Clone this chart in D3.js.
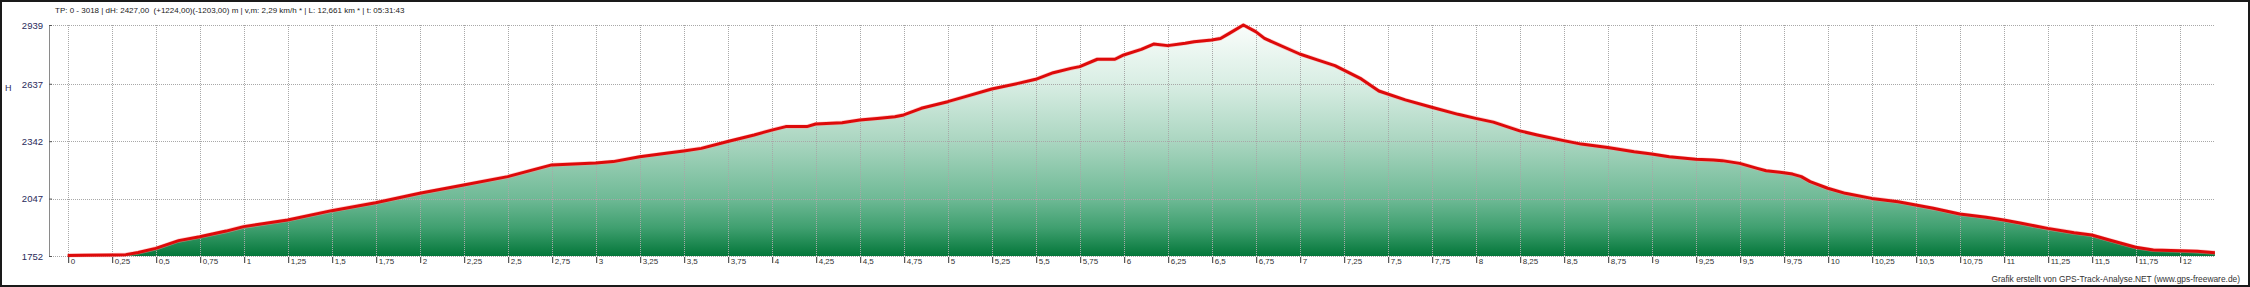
<!DOCTYPE html>
<html>
<head>
<meta charset="utf-8">
<script src="https://cdn.jsdelivr.net/npm/d3@7"></script>
<style>
  html, body { margin: 0; padding: 0; background: #fff; }
  svg { display: block; }
  text { font-family: "Liberation Sans", Arial, sans-serif; }
</style>
</head>
<body>
<svg id="chart" width="2250" height="287"></svg>
<script>
// ---- data ----
const distanceKm = [0, 0.1, 0.25, 0.33, 0.4, 0.5, 0.63, 0.75, 0.9, 1.0, 1.25, 1.5, 1.75, 2.0, 2.25, 2.5, 2.75, 3.0,
  3.1, 3.25, 3.4, 3.5, 3.6, 3.75, 3.9, 4.0, 4.08, 4.2, 4.25, 4.4, 4.5, 4.6, 4.7, 4.75, 4.85, 5.0, 5.1, 5.25, 5.4, 5.5,
  5.6, 5.7, 5.75, 5.85, 5.95, 6.0, 6.1, 6.17, 6.25, 6.35, 6.4, 6.5, 6.55, 6.6, 6.68, 6.75, 6.8, 7.0, 7.1, 7.2, 7.35,
  7.45, 7.6, 7.75, 7.9, 8.0, 8.1, 8.25, 8.35, 8.5, 8.6, 8.75, 8.9, 9.0, 9.1, 9.25, 9.35, 9.4, 9.5, 9.6, 9.65, 9.75,
  9.8, 9.85, 9.9, 10.0, 10.1, 10.25, 10.4, 10.5, 10.6, 10.75, 10.9, 11.0, 11.1, 11.25, 11.4, 11.5, 11.6, 11.75, 11.85,
  12.0, 12.1, 12.2];
const elevationM = [1755, 1756, 1757, 1759, 1770, 1791, 1831, 1851, 1880, 1903, 1937, 1985, 2026, 2074, 2117, 2160, 2220, 2230,
  2237, 2262, 2280, 2292, 2305, 2340, 2374, 2399, 2417, 2417, 2430, 2437, 2451, 2459, 2468, 2477, 2511, 2545, 2571, 2610, 2639, 2660,
  2694, 2716, 2725, 2763, 2763, 2785, 2814, 2841, 2833, 2845, 2853, 2862, 2870, 2896, 2939, 2905, 2870, 2790, 2760, 2730, 2662,
  2600, 2554, 2516, 2480, 2459, 2440, 2395, 2374, 2345, 2327, 2310, 2288, 2276, 2262, 2249, 2245, 2242, 2228, 2202, 2190, 2180,
  2173, 2160, 2134, 2100, 2074, 2048, 2031, 2014, 1997, 1968, 1951, 1937, 1920, 1894, 1872, 1860, 1834, 1797, 1783,
  1779, 1776, 1769];
const yTickValues = [1752, 2047, 2342, 2637, 2939];
const xTickValues = d3.range(0, 12.001, 0.25);
const titleText = "TP: 0 - 3018 | dH: 2427,00  (+1224,00)(-1203,00) m | v,m: 2,29 km/h * | L: 12,661 km * | t: 05:31:43";
const footerText = "Grafik erstellt von GPS-Track-Analyse.NET (www.gps-freeware.de)";
const yAxisLabel = "H";

// ---- layout ----
const svg = d3.select("#chart");
const W = 2250, H = 287;
const plotLeft = 49, plotRight = 2215, plotTop = 25, plotBottom = 256;

const x = d3.scaleLinear().domain([0, 12.2]).range([67.7, 2214.9]);
const y = d3.scaleLinear().domain([1752, 2939]).range([plotBottom, plotTop]);

const data = distanceKm.map((d, i) => ({ km: d, ele: elevationM[i] }));

// background + frame
svg.append("rect").attr("x", 0).attr("y", 0).attr("width", W).attr("height", H).attr("fill", "#fff");
svg.append("rect").attr("x", 1).attr("y", 1).attr("width", W - 2).attr("height", H - 2)
  .attr("fill", "none").attr("stroke", "#1a1a1a").attr("stroke-width", 2);

// gradient
const defs = svg.append("defs");
const grad = defs.append("linearGradient").attr("id", "fillGrad")
  .attr("gradientUnits", "userSpaceOnUse")
  .attr("x1", 0).attr("x2", 0).attr("y1", plotTop).attr("y2", plotBottom);
[[0, "#fafdfb"], [0.25, "#d9eee4"], [0.5, "#abd6c1"], [0.75, "#6fba96"], [0.88, "#3f9f6f"], [1, "#04773a"]]
  .forEach(([o, c]) => grad.append("stop").attr("offset", o).attr("stop-color", c));

// area
const area = d3.area().x(d => x(d.km)).y0(plotBottom).y1(d => y(d.ele));
svg.append("path").datum(data).attr("d", area).attr("fill", "url(#fillGrad)");

// grid
const grid = svg.append("g").attr("stroke", "#a8a8a8").attr("stroke-width", 1)
  .attr("stroke-dasharray", "1,1").attr("fill", "none");
grid.selectAll("line.h").data(yTickValues).join("line")
  .attr("x1", plotLeft).attr("x2", plotRight)
  .attr("y1", d => Math.round(y(d)) + 0.5).attr("y2", d => Math.round(y(d)) + 0.5);
grid.selectAll("line.v").data(xTickValues).join("line")
  .attr("x1", d => Math.round(x(d)) + 0.5).attr("x2", d => Math.round(x(d)) + 0.5)
  .attr("y1", plotTop).attr("y2", plotBottom);

// line
const line = d3.line().x(d => x(d.km)).y(d => y(d.ele));
svg.append("path").datum(data).attr("d", line).attr("fill", "none")
  .attr("stroke", "#ff9a9a").attr("stroke-width", 4.2).attr("stroke-linejoin", "round").attr("opacity", 0.5);
svg.append("path").datum(data).attr("d", line).attr("fill", "none")
  .attr("stroke", "#dd0a0a").attr("stroke-width", 3).attr("stroke-linejoin", "round");

// y axis
svg.append("line").attr("x1", plotLeft + 0.5).attr("x2", plotLeft + 0.5)
  .attr("y1", plotTop).attr("y2", plotBottom).attr("stroke", "#8a8a8a").attr("stroke-width", 1);
const yAxis = d3.axisLeft(y).tickValues(yTickValues).tickSize(3).tickPadding(6).tickFormat(d => d);
const gy = svg.append("g").attr("transform", `translate(${plotLeft + 3},0)`).call(yAxis);
gy.select(".domain").remove();
gy.selectAll(".tick line").attr("stroke", "#555");
gy.selectAll(".tick text").attr("fill", "#2a2a5a").attr("font-size", "9.5px")
  .attr("font-family", "'Liberation Sans', Arial, sans-serif").attr("dy", "0.35em");

svg.append("text").attr("x", 5).attr("y", 88).attr("dy", "0.35em").attr("fill", "#2a2a5a")
  .attr("font-size", "9px").text(yAxisLabel);

// x axis (tick marks + right-side labels)
const xAxis = d3.axisBottom(x).tickValues(xTickValues).tickSize(6).tickPadding(0)
  .tickFormat(d => String(+d.toFixed(2)).replace(".", ","));
const gx = svg.append("g").attr("transform", `translate(0.5,${plotBottom + 1})`).call(xAxis);
gx.select(".domain").remove();
gx.selectAll(".tick line").attr("stroke", "#333");
gx.selectAll(".tick text").attr("text-anchor", "start").attr("x", 2).attr("y", 1)
  .attr("dy", "0.71em").attr("fill", "#333").attr("font-size", "8px")
  .attr("font-family", "'Liberation Sans', Arial, sans-serif");

// title + footer
svg.append("text").attr("x", 55).attr("y", 10).attr("dy", "0.35em").attr("fill", "#222")
  .attr("font-size", "8px").style("white-space", "pre").text(titleText);
svg.append("text").attr("x", 2240).attr("y", 279).attr("dy", "0.35em").attr("text-anchor", "end")
  .attr("fill", "#333").attr("font-size", "8.4px").text(footerText);
</script>
</body>
</html>
